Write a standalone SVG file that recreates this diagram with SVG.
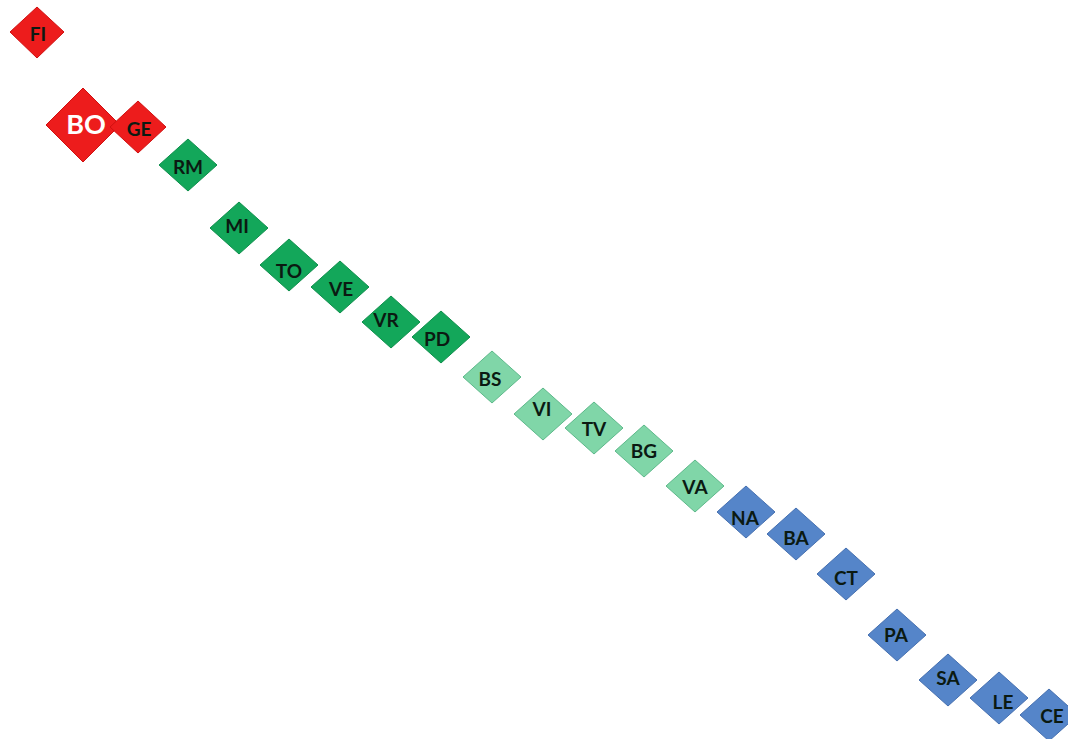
<svg xmlns="http://www.w3.org/2000/svg" width="1068" height="739" viewBox="0 0 1068 739">
<defs>
<style>
.r{fill:#ED1C1C;stroke:#D01010;stroke-width:1}
.g{fill:#13A75A;stroke:#0E8F4C;stroke-width:1}
.l{fill:#80D6A8;stroke:#5DB98A;stroke-width:1}
.b{fill:#5585C9;stroke:#4670B0;stroke-width:1}
text{font-family:Lato,"Open Sans","Liberation Sans",sans-serif;font-weight:bold;font-size:19px;fill:#0B1A12;text-anchor:middle;dominant-baseline:central}
.w{fill:#FFFFFF;font-size:27px}
</style>
</defs>
<rect width="1068" height="739" fill="#FFFFFF"/>
<g id="connectors"></g>
<g id="FI"><polygon class="r" points="37,7 64,32 37,58 10,32"/><text x="38" y="33">FI</text></g>
<g id="BO"><polygon class="r" points="83,88 120,125 83,162 46,125"/><text class="w" x="86" y="123">BO</text></g>
<g id="GE"><polygon class="r" points="138,101 166,127 138,153 110,127"/><text x="139" y="128">GE</text></g>
<g id="RM"><polygon class="g" points="188,139 217,165 188,191 159,165"/><text x="188" y="166">RM</text></g>
<g id="MI"><polygon class="g" points="239,202 268,228 239,254 210,228"/><text x="237" y="225">MI</text></g>
<g id="TO"><polygon class="g" points="289,239 318,265 289,291 260,265"/><text x="289" y="270">TO</text></g>
<g id="VE"><polygon class="g" points="340,261 369,287 340,313 311,287"/><text x="341" y="288">VE</text></g>
<g id="VR"><polygon class="g" points="391,296 420,322 391,348 362,322"/><text x="386" y="319">VR</text></g>
<g id="PD"><polygon class="g" points="441,311 470,337 441,363 412,337"/><text x="437" y="338">PD</text></g>
<g id="BS"><polygon class="l" points="492,351 521,377 492,403 463,377"/><text x="490" y="378">BS</text></g>
<g id="VI"><polygon class="l" points="543,388 572,414 543,440 514,414"/><text x="542" y="408">VI</text></g>
<g id="TV"><polygon class="l" points="594,402 623,428 594,454 565,428"/><text x="594" y="428">TV</text></g>
<g id="BG"><polygon class="l" points="644,425 673,451 644,477 615,451"/><text x="644" y="450">BG</text></g>
<g id="VA"><polygon class="l" points="695,460 724,486 695,512 666,486"/><text x="695" y="486">VA</text></g>
<g id="NA"><polygon class="b" points="746,486 775,512 746,538 717,512"/><text x="745" y="517">NA</text></g>
<g id="BA"><polygon class="b" points="796,508 825,534 796,560 767,534"/><text x="796" y="537">BA</text></g>
<g id="CT"><polygon class="b" points="846,548 875,574 846,600 817,574"/><text x="846" y="577">CT</text></g>
<g id="PA"><polygon class="b" points="897,609 926,635 897,661 868,635"/><text x="896" y="634">PA</text></g>
<g id="SA"><polygon class="b" points="948,654 977,680 948,706 919,680"/><text x="948" y="677">SA</text></g>
<g id="LE"><polygon class="b" points="999,672 1028,698 999,724 970,698"/><text x="1003" y="701">LE</text></g>
<g id="CE"><polygon class="b" points="1049,689 1078,715 1049,741 1020,715"/><text x="1052" y="715">CE</text></g>
</svg>
